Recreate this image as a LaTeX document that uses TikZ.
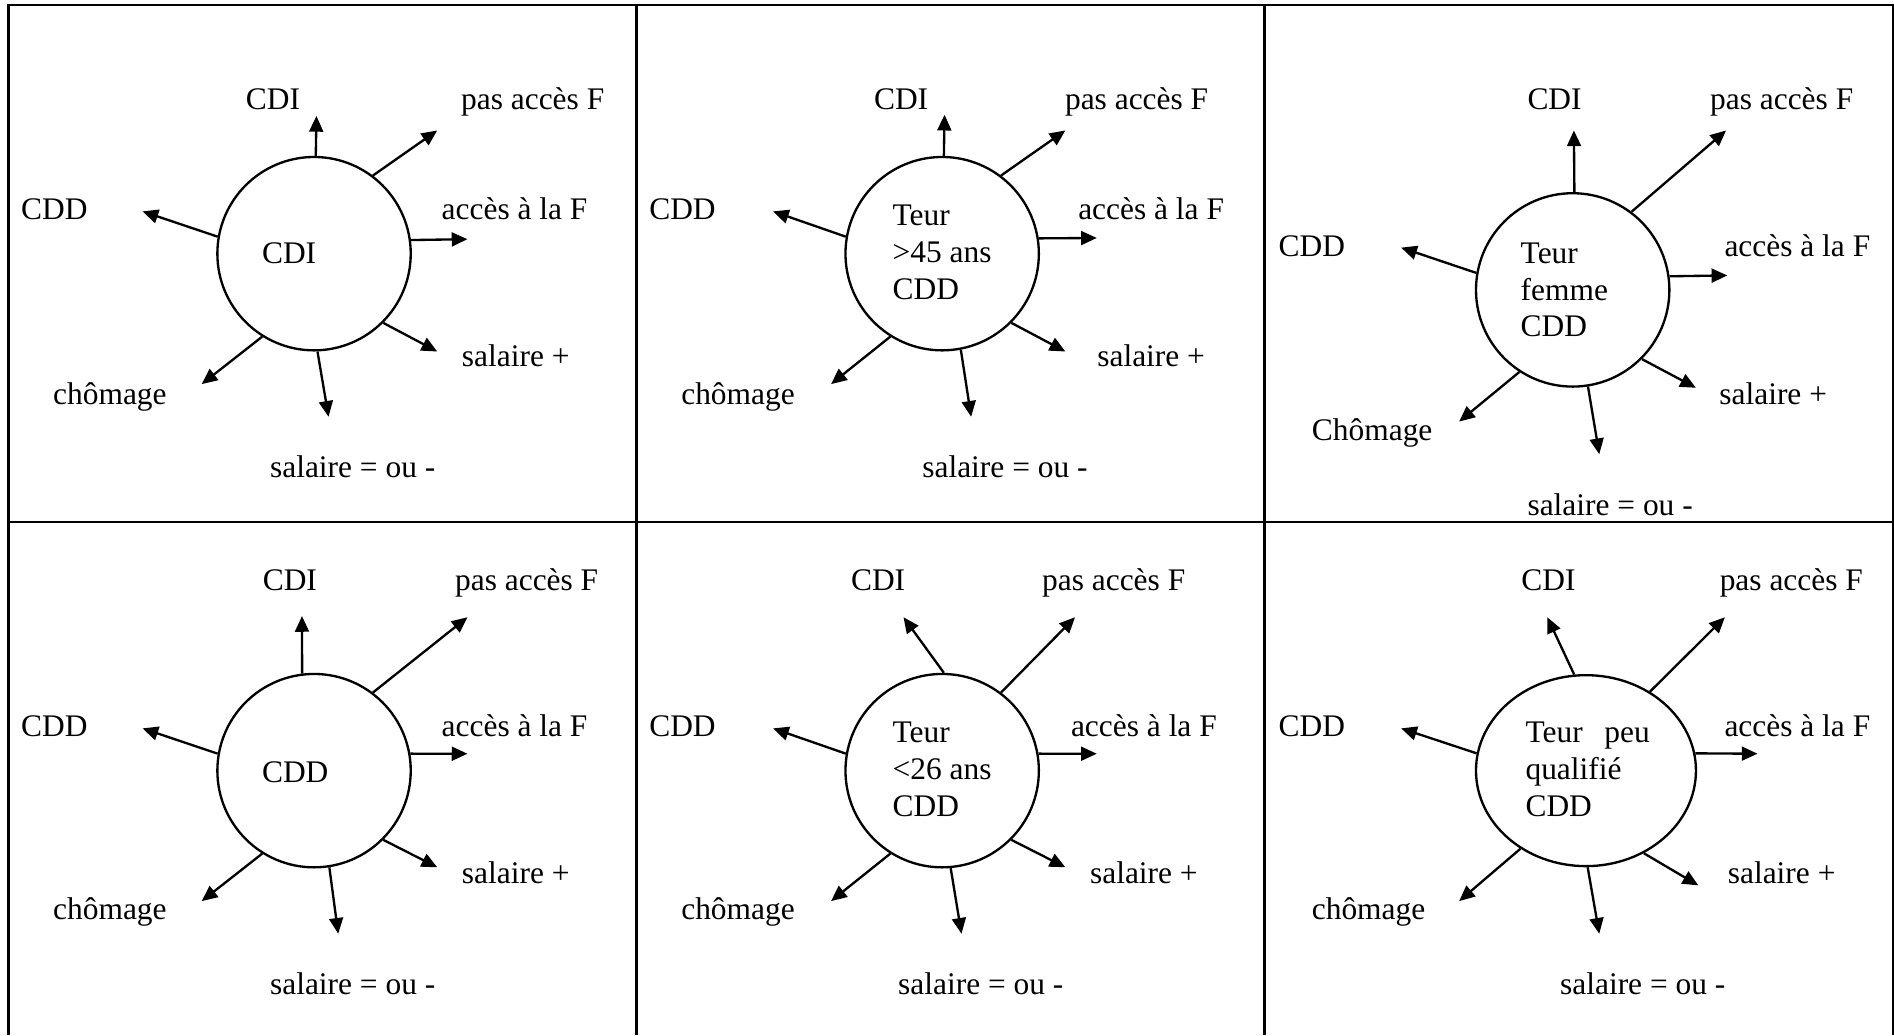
\documentclass[tikz,border=0pt]{standalone}
\usepackage{fontspec}
\setmainfont{Liberation Serif}
\usetikzlibrary{arrows.meta, shapes.geometric}
\tikzset{
  every picture/.style={line width=0.55pt},
  ring/.style={draw, circle, minimum size=1.6cm, inner sep=0pt},
  oval/.style={draw, ellipse, minimum width=1.82cm, minimum height=1.58cm, inner sep=0pt},
  lbl/.style={font=\fontsize{7.4}{8.7}\selectfont, inner sep=0pt, text height=0.19cm, text depth=0.06cm, yshift=-0.02cm},
  inside/.style={font=\fontsize{7.4}{8.7}\selectfont, align=left, inner sep=0pt, anchor=west, yshift=-0.01cm},
  arrow/.style={-{Triangle[length=0.13cm, width=0.115cm]}},
  frame/.style={line width=0.6pt},
}

\begin{document}
\begin{tikzpicture}[x=0.01cm, y=-0.01cm]
  \useasboundingbox (0,0) rectangle (1568,857);
  % grid of the six cases
  \draw[frame] (7,857) -- (7,4) -- (1567,4) -- (1567,857);
  \draw[frame] (527,4) -- (527,857);
  \draw[frame] (1047,4) -- (1047,857);
  \draw[frame] (7,432) -- (1567,432);

  % case 1
  \node[ring] (c1) at (260,210) {};
  \node[inside] (m1) at (216,209) {CDI};
  \foreach \ang/\tx/\ty/\lab/\lx/\ly [count=\i] in {
    89/262/96/{CDI}/226/82, 53/362/108/{pas accès F}/441/82,
    8/387/198/{accès à la F}/426/173, -45/362/291/{salaire +}/427/295,
    -88/272/345/{salaire = ou -}/292/387, -122/167/318/{chômage}/91/326,
    170/118/175/{CDD}/45/173} {
    \coordinate (a1-\i) at (\tx,\ty);
    \draw[arrow] (c1.\ang) -- (a1-\i);
    \node[lbl] (l1-\i) at (\lx,\ly) {\lab};
  }

  % case 2
  \node[ring] (c2) at (780,210) {};
  \node[inside] (m2) at (738,208) {Teur\\>45 ans\\CDD};
  \foreach \ang/\tx/\ty/\lab/\lx/\ly [count=\i] in {
    89/782/95/{CDI}/746/82, 53/882/108/{pas accès F}/941/82,
    9/908/197/{accès à la F}/953/173, -45/882/291/{salaire +}/953/295,
    -79/804/345/{salaire = ou -}/832/387, -122/688/318/{chômage}/611/326,
    170/640/175/{CDD}/565/173} {
    \coordinate (a2-\i) at (\tx,\ty);
    \draw[arrow] (c2.\ang) -- (a2-\i);
    \node[lbl] (l2-\i) at (\lx,\ly) {\lab};
  }

  % case 3
  \node[ring] (c3) at (1302,240) {};
  \node[inside] (m3) at (1258,239) {Teur\\femme\\CDD};
  \foreach \ang/\tx/\ty/\lab/\lx/\ly [count=\i] in {
    89/1303/108/{CDI}/1287/82, 53/1429/108/{pas accès F}/1475/82,
    8/1430/228/{accès à la F}/1488/204, -45/1404/321/{salaire +}/1468/326,
    -81/1324/376/{salaire = ou -}/1333/418, -123/1208/349/{Chômage}/1136/356,
    170/1160/205/{CDD}/1086/204} {
    \coordinate (a3-\i) at (\tx,\ty);
    \draw[arrow] (c3.\ang) -- (a3-\i);
    \node[lbl] (l3-\i) at (\lx,\ly) {\lab};
  }

  % case 4
  \node[ring] (c4) at (260,638) {};
  \node[inside] (m4) at (216,638) {CDD};
  \foreach \ang/\tx/\ty/\lab/\lx/\ly [count=\i] in {
    97/250/510/{CDI}/240/480, 53/387/511/{pas accès F}/436/480,
    10/387/624/{accès à la F}/426/601, -45/362/718/{salaire +}/427/723,
    -81/280/773/{salaire = ou -}/292/815, -122/167/746/{chômage}/91/753,
    170/118/603/{CDD}/45/601} {
    \coordinate (a4-\i) at (\tx,\ty);
    \draw[arrow] (c4.\ang) -- (a4-\i);
    \node[lbl] (l4-\i) at (\lx,\ly) {\lab};
  }

  % case 5
  \node[ring] (c5) at (780,638) {};
  \node[inside] (m5) at (738,636) {Teur\\<26 ans\\CDD};
  \foreach \ang/\tx/\ty/\lab/\lx/\ly [count=\i] in {
    89/748/511/{CDI}/727/480, 53/890/511/{pas accès F}/922/480,
    10/908/624/{accès à la F}/947/601, -45/882/718/{salaire +}/947/723,
    -85/796/773/{salaire = ou -}/812/815, -122/688/746/{chômage}/611/753,
    170/640/603/{CDD}/565/601} {
    \coordinate (a5-\i) at (\tx,\ty);
    \draw[arrow] (c5.\ang) -- (a5-\i);
    \node[lbl] (l5-\i) at (\lx,\ly) {\lab};
  }

  % case 6
  \node[oval] (c6) at (1313,638) {};
  \node[inside] (m6) at (1262,636) {Teur\hspace{0.18cm}peu\\qualifié\\CDD};
  \foreach \ang/\tx/\ty/\lab/\lx/\ly [count=\i] in {
    97/1281/511/{CDI}/1282/480, 51/1428/511/{pas accès F}/1483/480,
    9/1455/624/{accès à la F}/1488/601, -55/1406/733/{salaire +}/1475/723,
    -89/1324/773/{salaire = ou -}/1360/815, -130/1208/746/{chômage}/1133/753,
    171/1160/603/{CDD}/1086/601} {
    \coordinate (a6-\i) at (\tx,\ty);
    \draw[arrow] (c6.\ang) -- (a6-\i);
    \node[lbl] (l6-\i) at (\lx,\ly) {\lab};
  }
\end{tikzpicture}
\end{document}
